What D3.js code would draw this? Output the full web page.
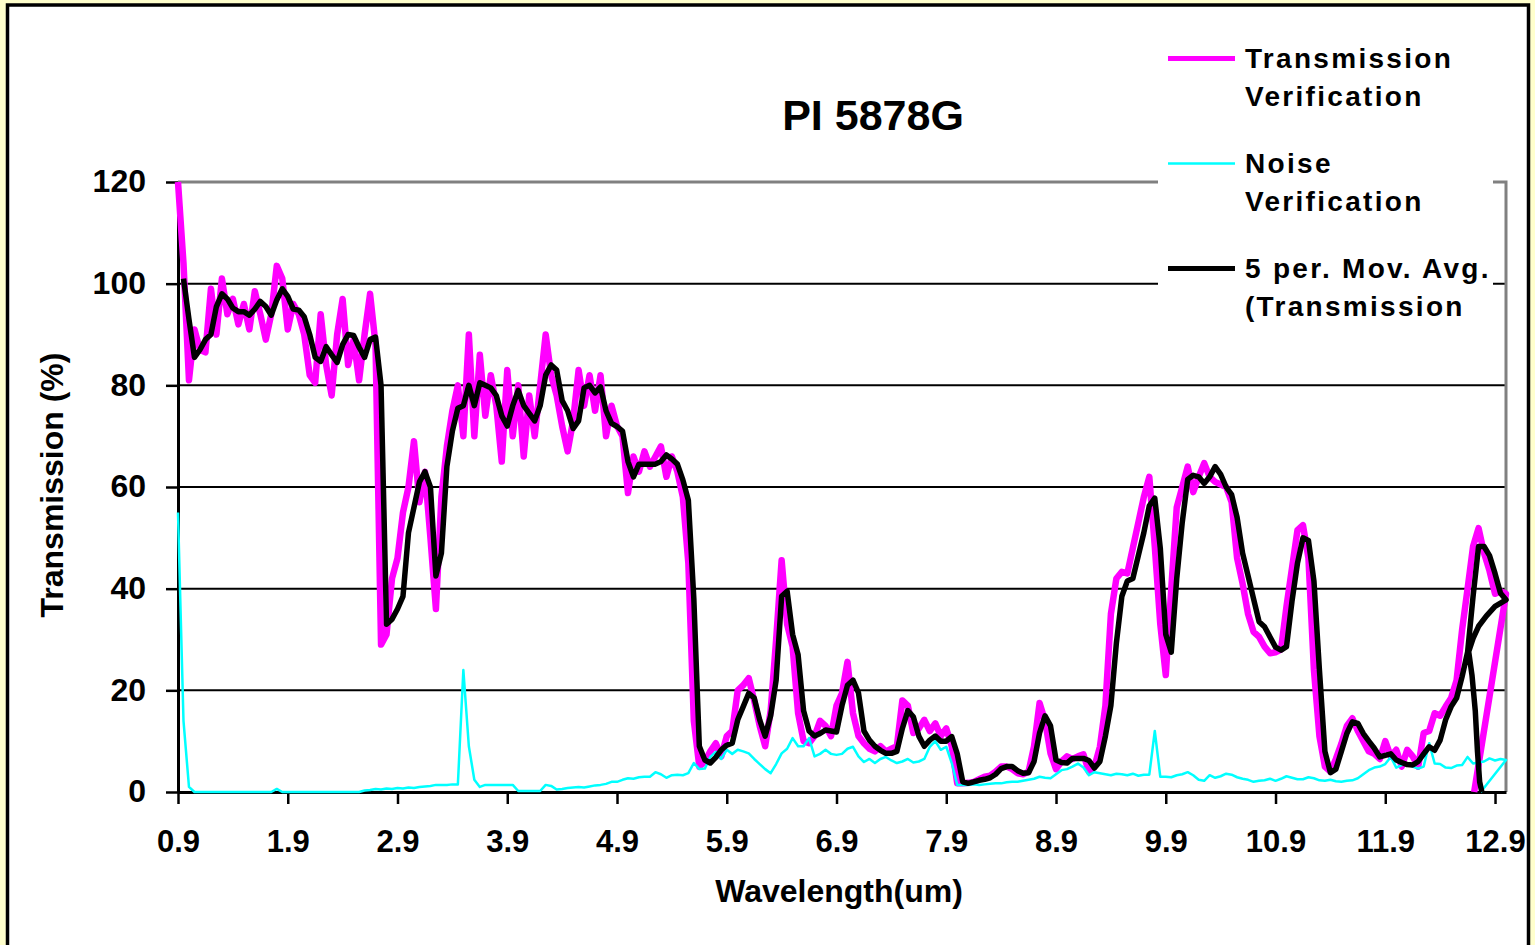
<!DOCTYPE html>
<html>
<head>
<meta charset="utf-8">
<script src="https://cdn.jsdelivr.net/npm/d3@7"></script>
<style>
  html, body { margin: 0; padding: 0; background: #ffffcc; }
  svg { display: block; font-family: "Liberation Sans", Arial, sans-serif; font-weight: bold; }
</style>
</head>
<body>
<svg id="chart" width="1535" height="945"></svg>
<script>
// spectrum sampled every 0.05 um from 0.9 to 13.0
const wavelengthStart = 0.9;
const wavelengthStep = 0.05;

const transmission = [
  120, 104, 81, 91, 87, 86.5, 99, 90, 101, 94,
  97, 92, 96, 91, 98.5, 94, 89, 94, 103.5, 101,
  91, 96, 94, 90, 82, 80.5, 94, 84, 78, 90,
  97, 84, 89, 81, 90, 98, 88, 29, 31, 42,
  46, 55, 60, 69, 57, 63, 50, 36, 58, 68,
  75, 80, 70, 90, 70, 86, 74, 82, 76, 65,
  83, 70, 80, 66, 78, 70, 80, 90, 82, 78,
  72, 67, 73, 83, 76, 82, 75, 82, 70, 76,
  72, 70, 58.8, 66, 63, 67, 64, 66, 68, 62,
  66, 63, 58, 45, 14, 5, 6, 8, 9.6, 7,
  11, 12, 20, 21, 22.4, 18, 13, 9, 16, 30,
  45.6, 33, 28.6, 15.5, 10, 9.6, 11, 14, 13, 11,
  17, 19.4, 25.6, 15.5, 11, 9.6, 8.5, 8, 9, 8,
  8.5, 9, 18, 17, 11.6, 12.5, 14.2, 12, 13.5, 11,
  12.5, 9, 1.7, 1.7, 1.8, 2, 2.5, 3, 3.2, 4,
  5, 5, 4.5, 3.7, 3.5, 4, 9, 17.5, 14, 7.6,
  4.5, 6, 7, 6.5, 7, 7.4, 4, 5, 8.9, 17,
  35, 42, 43.3, 43, 48, 53, 58, 62, 48.3, 33,
  23, 40, 56, 60, 64, 59, 62, 64.7, 62, 61,
  60.5, 60, 57, 46, 41, 35, 31.5, 30.5, 28.6, 27.3,
  27.5, 28, 36.5, 44, 51.5, 52.5, 46, 24, 11, 5,
  4, 6.5, 9.5, 13, 14.5, 12, 10, 8, 7.5, 6.5,
  10, 7, 8.3, 5, 8.3, 7, 5, 11.6, 12, 15.5,
  15, 16.8, 18.5, 22, 31.9, 40, 48.3, 51.9, 47, 43.5,
  39, 39.5, 39
];

const noise = [
  55, 14, 1, 0, 0, 0, 0, 0, 0, 0,
  0, 0, 0, 0, 0, 0, 0, 0, 0.6, 0,
  0, 0, 0, 0, 0, 0, 0, 0, 0, 0,
  0, 0, 0, 0, 0.3, 0.4, 0.6, 0.5, 0.7, 0.6,
  0.8, 0.7, 0.9, 0.8, 1.0, 1.1, 1.2, 1.4, 1.4, 1.4,
  1.5, 1.5, 24, 9, 2.4, 1.0, 1.4, 1.4, 1.4, 1.4,
  1.4, 1.4, 0.2, 0.2, 0.2, 0.2, 0.2, 1.4, 1.2, 0.5,
  0.6, 0.8, 0.9, 1.0, 0.9, 1.1, 1.3, 1.4, 1.6, 2.0,
  2.0, 2.4, 2.7, 2.6, 2.9, 3.0, 3.0, 3.9, 3.5, 2.8,
  3.3, 3.4, 3.3, 3.7, 5.7, 4.5, 4.6, 6.9, 7.9, 6.5,
  8.3, 7.5, 8.3, 8, 7.6, 6.5, 5.5, 4.5, 3.7, 5.5,
  7.6, 8.5, 10.6, 9, 9, 10.6, 7, 7.5, 8.3, 7.5,
  7.3, 7.5, 8.5, 8.9, 7, 5.9, 6.5, 5.7, 6.5, 6.9,
  6.2, 5.7, 6, 6.5, 5.8, 6.0, 6.5, 8.9, 10, 8.3,
  8.9, 5.7, 1.4, 1.4, 1.4, 1.5, 1.4, 1.5, 1.6, 1.7,
  1.7, 1.9, 2.0, 2.0, 2.2, 2.4, 2.6, 3.0, 2.8, 2.7,
  3.5, 4.3, 4.5, 5, 5.6, 4.8, 3.3, 3.9, 3.7, 3.5,
  3.3, 3.6, 3.5, 3.3, 3.6, 3.2, 3.4, 3.4, 12, 3,
  3, 2.9, 3.3, 3.5, 3.9, 3.3, 2.4, 2.2, 3.3, 2.8,
  3.1, 3.6, 3.4, 2.9, 2.6, 2.4, 2.0, 2.2, 2.3, 2.6,
  2.2, 2.6, 3.1, 2.8, 2.5, 2.5, 2.9, 2.7, 2.3, 2.2,
  2.4, 2.1, 2.0, 2.2, 2.3, 2.7, 3.5, 4.3, 4.8, 5,
  5.5, 6.9, 4.8, 5.3, 5.6, 5.0, 4.6, 5.0, 9.6, 5.6,
  5.5, 4.8, 4.7, 5.2, 5.3, 6.9, 5.6, 5.8, 6.0, 6.6,
  6.2, 6.5, 6.3
];

// Excel's 5 period moving average trendline
const movingAvg = [
  null, 101, 93, 85.5, 87, 89, 90, 95.5, 98, 97,
  95.2, 94.5, 94.5, 93.8, 95, 96.5, 95.5, 93.8, 96.8, 99,
  97.5, 95, 94.8, 93.5, 90, 85.5, 84.7, 87.6, 86, 84.5,
  88, 90, 89.8, 87.5, 85.5, 89, 89.5, 80, 33, 34,
  36, 38.5, 51, 56, 61, 63, 60, 42.5, 47, 64,
  71, 75.5, 76, 80, 76, 80.5, 80, 79.5, 78, 74,
  72, 76, 79, 76, 74.5, 73, 76, 82, 84, 83,
  77, 75, 71.5, 73, 79.5, 80, 78.5, 79.7, 75, 72.5,
  71.9, 71, 65, 62, 64.5, 64.5, 64.5, 64.5, 65, 66.3,
  65.5, 64.5, 61.4, 57.4, 38, 9, 6.3, 5.7, 6.8, 8.3,
  9.2, 9.6, 14.2, 16.8, 19.4, 18.5, 14.2, 11, 15, 22,
  38.5, 39.5, 31, 27, 16, 12, 11, 11.5, 12.2, 12,
  11.8, 17, 21, 22, 19.5, 12, 10.2, 9, 8.2, 7.6,
  7.6, 8, 12.5, 16, 14.8, 11, 9, 10.2, 11, 10,
  10, 10.9, 7.5, 2, 1.7, 2, 2.3, 2.5, 2.8, 3.5,
  4.6, 5.0, 5.0, 4.2, 3.7, 3.8, 6, 11.6, 15, 13,
  6.3, 5.8, 5.7, 6.6, 6.6, 6.6, 6.2, 4.7, 6, 11,
  17, 29.3, 38.5, 41.5, 42, 46.5, 51, 56.3, 57.8, 48,
  31, 27.5, 42, 53, 61.5, 62.3, 62, 60.7, 62, 64,
  62.5, 60, 58.5, 54, 47, 42.5, 38, 33.5, 32.5, 30.5,
  28.5, 27.9, 28.6, 37.5, 45, 50, 49.5, 41.5, 24, 8,
  3.8, 4.5, 8, 11.5, 13.8, 13.5, 11.5, 10, 8.6, 6.9,
  7.2, 7.5, 6.3, 5.8, 5.4, 5.3, 6, 7.5, 8.9, 8.2,
  10.2, 14.2, 16.8, 18.5, 22.7, 27.5, 38.5, 48.3, 48.3, 46.5,
  43, 39.1, 37.8
];

// the data rows after 13.0 jump back in wavelength
const transmissionTail = [[12.71, 0]];
const noiseTail = [[12.77, 0]];
const movingAvgTail = [
  [12.90, 36.5], [12.82, 34.6], [12.75, 32.6], [12.70, 30.2], [12.66, 27.6],
  [12.69, 23], [12.72, 16], [12.74, 8], [12.76, 2], [12.78, 0]
];

const xTicks = [0.9, 1.9, 2.9, 3.9, 4.9, 5.9, 6.9, 7.9, 8.9, 9.9, 10.9, 11.9, 12.9];
const yTicks = [0, 20, 40, 60, 80, 100, 120];
const legendLabels = [
  ["Transmission", "Verification"],
  ["Noise", "Verification"],
  ["5 per. Mov. Avg.", "(Transmission"]
];

const svg = d3.select("#chart");
const plotLeft = 178;
const plotRight = 1506;
const plotTop = 182;
const plotBottom = 792;

const x = d3.scaleLinear().domain([0.9, 13.0]).range([plotLeft, plotRight]);
const y = d3.scaleLinear().domain([0, 120]).range([plotBottom, plotTop]);

function toPoints(values, tail) {
  return values
    .map((v, i) => [+(wavelengthStart + i * wavelengthStep).toFixed(2), v])
    .filter((d) => d[1] != null)
    .concat(tail);
}

// frame
svg.append("rect").attr("width", 1535).attr("height", 945).attr("fill", "#ffffcc");
svg
  .append("rect")
  .attr("x", 7.5)
  .attr("y", 5)
  .attr("width", 1521)
  .attr("height", 1000)
  .attr("fill", "#fff")
  .attr("stroke", "#000")
  .attr("stroke-width", 3.5);

// gridlines
svg
  .append("g")
  .selectAll("line")
  .data(yTicks.filter((t) => t > 0 && t < 120))
  .enter()
  .append("line")
  .attr("x1", plotLeft)
  .attr("x2", plotRight)
  .attr("y1", (d) => y(d))
  .attr("y2", (d) => y(d))
  .attr("stroke", "#000")
  .attr("stroke-width", 2);

// grey top and right border of the plot area
svg
  .append("path")
  .attr("d", `M${plotLeft},${y(120)}H${plotRight}V${plotBottom}`)
  .attr("fill", "none")
  .attr("stroke", "#808080")
  .attr("stroke-width", 3);

const xAxis = svg
  .append("g")
  .attr("transform", `translate(0,${plotBottom})`)
  .call(d3.axisBottom(x).tickValues(xTicks).tickFormat(d3.format(".1f")).tickSize(12).tickSizeOuter(0).tickPadding(26));

const yAxis = svg
  .append("g")
  .attr("transform", `translate(${plotLeft},0)`)
  .call(d3.axisLeft(y).tickValues(yTicks).tickSize(12).tickSizeOuter(0).tickPadding(20));

[xAxis, yAxis].forEach((axis) => {
  axis.attr("font-family", null).attr("font-size", null);
  axis.select(".domain").attr("stroke", "#000").attr("stroke-width", 3);
  axis.selectAll(".tick line").attr("stroke", "#000").attr("stroke-width", 2.5);
  axis.selectAll(".tick text").attr("fill", "#000");
});
xAxis.selectAll(".tick text").style("font-size", "31px");
yAxis.selectAll(".tick text").style("font-size", "32px").attr("dy", "0.31em");

// series
const line = d3
  .line()
  .x((d) => x(d[0]))
  .y((d) => y(d[1]));

const series = [
  { points: toPoints(transmission, transmissionTail), color: "#ff00ff", width: 6.5 },
  { points: toPoints(noise, noiseTail), color: "#00ffff", width: 2.5 },
  { points: toPoints(movingAvg, movingAvgTail), color: "#000000", width: 5.5 }
];

svg
  .append("g")
  .selectAll("path")
  .data(series)
  .enter()
  .append("path")
  .attr("d", (d) => line(d.points))
  .attr("fill", "none")
  .attr("stroke", (d) => d.color)
  .attr("stroke-width", (d) => d.width)
  .attr("stroke-linejoin", "round");

// titles
svg
  .append("text")
  .attr("x", 873)
  .attr("y", 130)
  .attr("text-anchor", "middle")
  .style("font-size", "43px")
  .text("PI 5878G");

svg
  .append("text")
  .attr("transform", "translate(63,485) rotate(-90)")
  .attr("text-anchor", "middle")
  .style("font-size", "32px")
  .text("Transmission (%)");

svg
  .append("text")
  .attr("x", 839)
  .attr("y", 902)
  .attr("text-anchor", "middle")
  .style("font-size", "32px")
  .text("Wavelength(um)");

// legend
const legend = svg.append("g");
legend.append("rect").attr("x", 1158).attr("y", 35).attr("width", 335).attr("height", 300).attr("fill", "#fff");

const legendRow = legend
  .selectAll("g")
  .data(series)
  .enter()
  .append("g")
  .attr("transform", (d, i) => `translate(0,${58.5 + i * 105})`);

legendRow
  .append("line")
  .attr("x1", 1168)
  .attr("x2", 1235)
  .attr("stroke", (d) => d.color)
  .attr("stroke-width", (d) => (d.width > 3 ? 5 : 2.5));

legendRow
  .selectAll("text")
  .data((d, i) => legendLabels[i])
  .enter()
  .append("text")
  .attr("x", 1245)
  .attr("y", (d, j) => 9 + j * 38.5)
  .style("font-size", "28px")
  .style("letter-spacing", "2.3px")
  .text((d) => d);
</script>
</body>
</html>
